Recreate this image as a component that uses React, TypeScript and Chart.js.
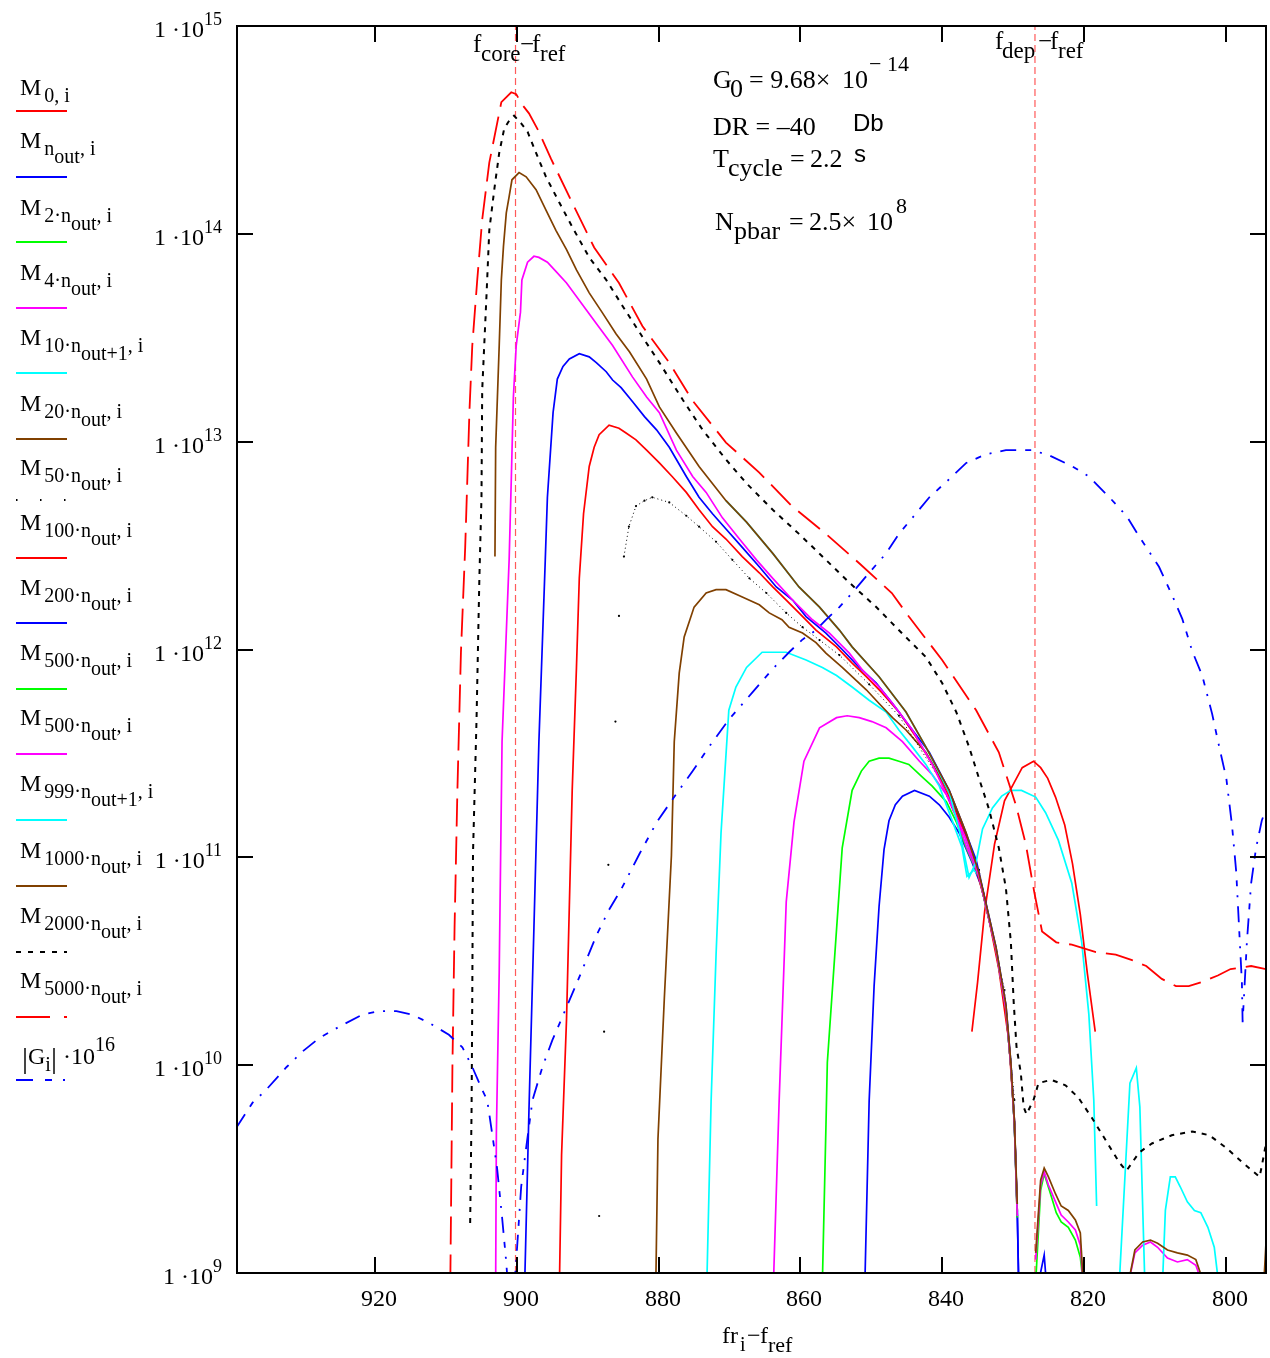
import { useEffect, useRef } from "react";
import { Chart, registerables } from "chart.js";

Chart.register(...registerables);

type Pt = [number, number | null];

// ---------- axes ----------
const xRange = [794.3, 939.5];
const yRange = [1e9, 1e15];
const xTicks = [920, 900, 880, 860, 840, 820, 800];
const yTicks = [1e9, 1e10, 1e11, 1e12, 1e13, 1e14, 1e15];
const yTickExp = ["9", "10", "11", "12", "13", "14", "15"];
const refLineX = [900.2, 826.9]; // f_core - f_ref , f_dep - f_ref

// ---------- series (x = fr_i - f_ref, y = value) ----------
const m0: Pt[] = [[835.8,1.45e10],[835.0,2.5e10],[834.0,5.5e10],[832.6,1.16e11],[831.2,1.87e11],[829.8,2.3e11],[828.7,2.7e11],[827.1,2.9e11],[826.1,2.7e11],[825.1,2.4e11],[824.0,1.95e11],[822.7,1.43e11],[821.6,9.3e10],[820.5,5.3e10],[819.5,2.75e10],[818.4,1.45e10]];

const mNout: Pt[] = [[850.9,9e8],[850.3,6.7e9],[849.6,2.4e10],[848.9,5.8e10],[848.2,1.09e11],[847.5,1.5e11],[846.6,1.79e11],[845.6,1.97e11],[843.9,2.1e11],[841.8,1.97e11],[840.4,1.79e11],[839.0,1.56e11],[837.6,1.31e11],[835.8,9.5e10],[834.3,7.0e10],[832.4,3.6e10],[831.0,1.85e10],[830.3,9.9e9],[829.8,5.2e9],[829.4,2.0e9],[829.2,9e8],[827.0,null],[826.4,9e8],[825.6,1.22e9],[825.3,9e8]];

const m2: Pt[] = [[856.9,9e8],[856.4,5e9],[856.2,1.03e10],[854.9,4.5e10],[854.1,1.11e11],[852.7,2.1e11],[851.4,2.6e11],[850.3,2.9e11],[848.9,3.0e11],[847.5,3.0e11],[846.1,2.9e11],[844.7,2.8e11],[842.6,2.4e11],[841.4,2.2e11],[839.4,1.85e11],[838.0,1.48e11],[836.5,1.09e11],[834.8,8.1e10],[832.4,3.6e10],[831.0,1.85e10],[830.3,9.9e9],[829.8,5.2e9],[829.4,1.85e9]];

const m4: Pt[] = [[863.8,9e8],[863.0,6.7e9],[862.0,6.1e10],[860.9,1.48e11],[859.5,2.9e11],[857.3,4.2e11],[854.9,4.7e11],[853.4,4.8e11],[851.7,4.7e11],[849.9,4.5e11],[847.9,4.2e11],[845.6,3.6e11],[843.2,2.9e11],[841.4,2.5e11],[839.4,2.0e11],[838.0,1.55e11],[836.5,1.11e11],[834.8,8.1e10],[832.4,3.6e10],[831.0,1.85e10],[830.3,9.9e9],[829.8,5.2e9],[829.4,1.88e9]];

const m10: Pt[] = [[873.2,9e8],[872.6,6.7e9],[871.9,3.4e10],[871.2,1.31e11],[870.1,5.1e11],[869.1,6.6e11],[867.6,8.2e11],[865.4,9.7e11],[862.0,9.7e11],[859.2,8.9e11],[856.9,8.2e11],[854.9,7.5e11],[852.7,6.6e11],[850.3,5.7e11],[847.9,5.0e11],[846.1,4.1e11],[844.2,3.4e11],[842.3,2.8e11],[840.4,2.2e11],[838.6,1.51e11],[837.2,1.12e11],[836.5,8.1e10],[835.5,8.7e10],[834.8,8.1e10],[832.4,3.6e10],[831.0,1.85e10],[830.3,9.9e9],[829.8,5.2e9],[829.4,1.97e9]];

const m20: Pt[] = [[880.4,9e8],[880.1,4.4e9],[879.2,2.1e10],[878.2,1.02e11],[877.8,3.6e11],[877.1,7.7e11],[876.4,1.15e12],[875.0,1.6e12],[873.3,1.87e12],[871.9,1.94e12],[870.5,1.94e12],[868.2,1.79e12],[865.8,1.64e12],[864.4,1.5e12],[862.6,1.39e12],[861.6,1.28e12],[859.7,1.2e12],[857.8,1.08e12],[856.4,9.6e11],[854.1,8.2e11],[852.7,7.4e11],[850.7,6.4e11],[848.9,5.5e11],[847.0,4.7e11],[845.1,4.1e11],[842.3,3.2e11],[839.0,2.04e11],[836.6,1.28e11],[834.8,8.1e10],[832.4,3.6e10],[831.0,1.85e10],[830.3,9.9e9],[829.8,5.2e9],[829.4,1.97e9]];

const m50: Pt[] = [[888.4,1.88e9],[888.4,null],[887.7,1.45e10],[887.7,null],[887.1,9.2e10],[887.1,null],[886.1,4.5e11],[886.1,null],[885.6,1.45e12],[885.6,null],[884.9,2.8e12],[884.2,3.9e12],[883.2,4.9e12],[882.0,5.2e12],[880.9,5.4e12],[878.5,5.1e12],[876.1,4.4e12],[874.3,3.9e12],[871.9,3.3e12],[869.6,2.7e12],[867.2,2.2e12],[864.8,1.87e12],[862.0,1.5e12],[859.7,1.28e12],[857.3,1.11e12],[854.5,9.4e11],[850.3,6.8e11],[846.1,4.8e11],[840.4,2.4e11],[834.8,8.7e10],[831.2,2.3e10],[829.8,6.8e9]];

const m100: Pt[] = [[894.0,9e8],[893.7,3.7e9],[893.0,1.67e10],[892.2,2.1e11],[891.6,8.2e11],[891.2,2.2e12],[890.6,4.5e12],[889.8,7.6e12],[889.1,9.4e12],[888.4,1.08e13],[887.0,1.2e13],[885.6,1.16e13],[884.6,1.1e13],[883.2,1.02e13],[881.7,9.1e12],[879.9,7.9e12],[878.1,6.8e12],[876.1,5.7e12],[874.3,4.7e12],[872.4,3.9e12],[870.5,3.4e12],[868.2,2.8e12],[865.8,2.34e12],[863.9,2.0e12],[862.0,1.73e12],[860.2,1.5e12],[857.8,1.24e12],[854.9,1.03e12],[852.7,8.6e11],[850.7,7.4e11],[848.5,6.2e11],[846.1,5.0e11],[843.7,3.8e11],[841.4,2.8e11],[839.0,1.95e11],[836.2,1.17e11],[833.8,5.9e10],[832.0,2.9e10],[830.6,1.32e10],[829.8,5.4e9],[829.4,2.0e9]];

const m200: Pt[] = [[898.9,9e8],[898.3,6.1e9],[897.6,4.6e10],[896.9,3.6e11],[896.0,2.7e12],[895.7,5.4e12],[894.9,1.38e13],[894.3,2.0e13],[893.5,2.3e13],[892.6,2.5e13],[891.2,2.65e13],[889.8,2.56e13],[888.8,2.4e13],[887.4,2.17e13],[886.5,1.98e13],[885.3,1.82e13],[883.7,1.56e13],[882.0,1.32e13],[880.3,1.14e13],[878.5,9.4e12],[876.1,6.8e12],[874.3,5.4e12],[872.4,4.5e12],[870.5,3.8e12],[868.2,3.1e12],[865.8,2.5e12],[863.4,2.0e12],[861.1,1.73e12],[859.2,1.44e12],[856.4,1.2e12],[854.1,1.0e12],[851.7,8.2e11],[849.3,6.9e11],[847.0,5.5e11],[844.2,4.1e11],[841.8,3.2e11],[839.0,2.1e11],[837.2,1.47e11],[835.2,9.7e10],[832.4,3.7e10],[831.0,1.95e10],[830.3,1.03e10],[829.8,5.4e9],[829.4,2.0e9],[829.2,9e8]];

const m500g: Pt[] = [[836.6,1.21e11],[834.8,8.1e10],[832.4,3.6e10],[831.0,1.85e10],[830.3,9.9e9],[829.8,5.2e9],[829.4,1.85e9],[827.0,null],[826.8,9e8],[826.1,2.5e9],[825.6,3.0e9],[824.7,2.4e9],[823.9,1.95e9],[823.2,1.76e9],[822.2,1.66e9],[821.2,1.44e9],[820.5,1.19e9],[820.1,9e8]];

const m500m: Pt[] = [[903.0,9e8],[902.9,4.7e9],[902.5,2.8e10],[902.1,3.6e11],[901.1,2.7e12],[900.8,6.5e12],[900.5,1.64e13],[900.1,2.9e13],[899.5,4.2e13],[899.3,6.0e13],[898.5,7.3e13],[897.6,7.8e13],[896.9,7.7e13],[895.7,7.3e13],[894.5,6.6e13],[893.0,5.8e13],[891.6,5.0e13],[890.2,4.3e13],[888.8,3.7e13],[886.5,2.9e13],[883.7,2.05e13],[881.7,1.64e13],[879.9,1.38e13],[877.5,9.1e12],[875.2,6.8e12],[873.3,5.7e12],[871.0,4.3e12],[868.6,3.4e12],[866.2,2.7e12],[863.9,2.2e12],[861.1,1.73e12],[858.3,1.39e12],[855.9,1.2e12],[853.1,9.6e11],[851.3,8.0e11],[848.9,6.6e11],[847.0,5.5e11],[844.2,4.1e11],[841.4,2.8e11],[839.0,1.89e11],[836.6,1.21e11],[834.8,8.1e10],[832.4,3.6e10],[831.0,1.85e10],[830.3,9.9e9],[829.8,5.2e9],[829.4,1.88e9],[827.0,null],[826.8,1.16e9],[826.1,2.65e9],[825.6,3.06e9],[825.0,2.65e9],[824.0,2.2e9],[823.2,1.9e9],[822.2,1.76e9],[821.2,1.61e9],[820.5,1.36e9],[820.0,8e8],[815.0,null],[814.0,8e8],[812.8,1.25e9],[811.7,1.36e9],[810.6,1.41e9],[809.6,1.33e9],[808.2,1.18e9],[806.8,1.13e9],[805.4,1.16e9],[804.2,1.09e9],[802.8,8e8]];

const m999: Pt[] = [[870.5,5.2e12],[867.6,4.1e12],[863.9,2.9e12],[860.2,2.0e12],[857.3,1.6e12],[854.5,1.24e12],[852.7,1.03e12],[848.9,7.4e11],[845.1,5.0e11],[842.3,3.4e11],[839.0,2.05e11],[837.6,1.36e11],[836.2,8.0e10],[835.2,9.5e10],[834.3,1.37e11],[832.9,1.73e11],[831.6,1.97e11],[830.3,2.1e11],[828.8,2.1e11],[826.8,1.95e11],[825.4,1.64e11],[823.6,1.21e11],[821.7,7.5e10],[820.3,3.9e10],[819.3,1.76e10],[818.6,6.8e9],[818.2,2.1e9],[817.0,null],[815.0,9e8],[813.5,8.2e9],[812.6,9.7e9],[812.1,6.3e9],[811.4,9e8],[810.0,null],[808.9,9e8],[808.5,2.0e9],[807.8,2.9e9],[807.1,2.9e9],[806.4,2.6e9],[805.4,2.2e9],[804.4,2.0e9],[803.5,1.95e9],[802.5,1.66e9],[801.6,1.33e9],[801.0,9e8]];

const m1000: Pt[] = [[903.1,2.8e12],[903.0,9.4e12],[902.5,2.9e13],[902.2,6.0e13],[901.9,8.7e13],[901.5,1.26e14],[901.1,1.51e14],[900.7,1.82e14],[899.7,1.97e14],[898.7,1.88e14],[897.3,1.63e14],[895.9,1.3e14],[894.5,1.04e14],[893.0,8.4e13],[891.6,6.7e13],[889.8,5.2e13],[888.0,4.2e13],[886.0,3.3e13],[884.1,2.7e13],[881.7,2.0e13],[879.9,1.47e13],[877.5,1.1e13],[874.3,7.6e12],[870.5,5.2e12],[867.6,4.1e12],[863.9,2.9e12],[860.2,2.0e12],[857.3,1.6e12],[854.5,1.24e12],[852.7,1.03e12],[848.9,7.4e11],[845.1,5.0e11],[842.3,3.4e11],[839.0,2.1e11],[836.6,1.31e11],[834.8,8.4e10],[832.4,3.7e10],[831.0,1.95e10],[830.3,1.03e10],[829.8,5.4e9],[829.4,2.15e9],[827.0,null],[826.8,1.25e9],[826.1,2.8e9],[825.6,3.2e9],[825.0,2.9e9],[824.0,2.4e9],[823.2,2.1e9],[822.2,2.0e9],[821.2,1.8e9],[820.5,1.56e9],[820.0,8e8],[815.0,null],[814.0,8e8],[812.8,1.29e9],[811.7,1.41e9],[810.6,1.44e9],[809.6,1.39e9],[808.2,1.29e9],[806.8,1.25e9],[805.4,1.22e9],[804.2,1.16e9],[802.6,8e8],[796.0,null],[794.6,9e8],[794.3,1.4e9]];

const m2000: Pt[] = [[906.6,1.74e9],[906.4,6.1e9],[906.3,2.15e10],[906.2,1.04e11],[905.7,4.6e11],[905.3,2.2e12],[905.0,5.4e12],[904.9,1.77e13],[904.3,5.0e13],[903.9,1.04e14],[903.2,1.63e14],[902.5,2.45e14],[901.8,3.2e14],[901.1,3.5e14],[900.4,3.7e14],[899.4,3.4e14],[898.5,3.1e14],[897.3,2.45e14],[895.9,1.88e14],[894.0,1.41e14],[892.2,1.08e14],[889.8,7.7e13],[887.4,6.0e13],[885.1,4.5e13],[882.3,3.2e13],[879.9,2.4e13],[876.6,1.59e13],[873.8,1.14e13],[870.5,8.2e12],[867.6,6.3e12],[863.9,4.7e12],[860.2,3.6e12],[856.4,2.7e12],[853.1,2.1e12],[849.3,1.6e12],[845.7,1.2e12],[842.3,9.2e11],[840.0,6.9e11],[838.0,5.0e11],[836.2,3.4e11],[834.8,2.4e11],[833.4,1.71e11],[832.0,1.11e11],[831.0,7.1e10],[830.3,3.9e10],[829.9,2.0e10],[829.5,1.22e10],[828.9,9.2e9],[828.5,6.3e9],[828.1,5.8e9],[827.1,6.8e9],[826.4,8.2e9],[824.6,8.5e9],[822.6,8.0e9],[820.8,7.0e9],[818.9,5.6e9],[817.0,4.4e9],[815.0,3.4e9],[814.0,3.1e9],[812.2,3.8e9],[810.4,4.2e9],[807.6,4.6e9],[804.7,4.8e9],[802.3,4.6e9],[799.9,4.0e9],[797.6,3.4e9],[795.2,2.9e9],[794.8,3.4e9],[794.3,4.2e9]];

const m5000: Pt[] = [[909.4,9e8],[909.1,1.0e10],[908.8,4.6e10],[908.4,2.1e11],[907.9,9.7e11],[907.3,3.1e12],[906.7,1.4e13],[906.3,2.9e13],[905.6,6.0e13],[904.9,1.17e14],[903.9,2.2e14],[903.2,2.9e14],[902.2,4.3e14],[900.8,4.8e14],[900.1,4.7e14],[899.3,4.2e14],[898.3,3.8e14],[896.9,3.1e14],[895.2,2.3e14],[892.2,1.41e14],[889.1,8.6e13],[885.6,5.8e13],[882.3,3.6e13],[878.5,2.4e13],[875.3,1.59e13],[870.5,9.9e12],[865.8,7.1e12],[861.2,4.9e12],[856.4,3.6e12],[851.7,2.6e12],[847.1,1.87e12],[844.7,1.44e12],[840.0,8.9e11],[835.2,5.1e11],[832.0,3.2e11],[829.6,1.79e11],[828.2,1.16e11],[827.0,6.8e10],[825.9,4.4e10],[823.9,3.9e10],[821.7,3.8e10],[818.3,3.5e10],[815.5,3.4e10],[813.2,3.2e10],[811.2,3.0e10],[809.0,2.6e10],[807.0,2.4e10],[805.2,2.4e10],[803.5,2.5e10],[801.1,2.7e10],[799.3,2.9e10],[796.4,3.0e10],[794.3,2.9e10]];

const gAbs: Pt[] = [[939.6,5.0e9],[937.3,6.6e9],[935.4,7.6e9],[932.5,9.8e9],[930.3,1.16e10],[927.9,1.35e10],[925.1,1.53e10],[921.8,1.75e10],[919.4,1.82e10],[917.0,1.82e10],[914.8,1.75e10],[912.4,1.6e10],[909.6,1.4e10],[907.7,1.22e10],[906.3,9.8e9],[904.9,7.6e9],[904.2,6.8e9],[903.5,4.7e9],[902.8,3.2e9],[902.1,1.86e9],[901.5,1.12e9],[900.8,5e8],[900.1,1.15e9],[899.4,2.6e9],[898.7,4.0e9],[897.8,6.8e9],[896.4,9.8e9],[895.0,1.32e10],[893.3,1.8e10],[891.2,2.65e10],[888.8,4.2e10],[887.0,5.6e10],[885.3,7.0e10],[882.7,1.04e11],[880.3,1.47e11],[878.1,1.89e11],[875.2,2.6e11],[872.9,3.4e11],[870.1,4.6e11],[866.8,6.2e11],[864.0,8.0e11],[861.6,9.7e11],[859.8,1.11e12],[857.8,1.24e12],[856.4,1.39e12],[854.5,1.6e12],[852.7,1.87e12],[850.3,2.34e12],[847.9,2.9e12],[846.1,3.6e12],[844.2,4.3e12],[841.8,5.4e12],[839.0,6.6e12],[836.6,7.9e12],[833.8,8.7e12],[831.0,9.1e12],[827.3,9.1e12],[824.9,8.6e12],[821.6,7.6e12],[819.3,6.8e12],[816.4,5.4e12],[814.0,4.4e12],[812.2,3.5e12],[809.4,2.5e12],[807.5,1.81e12],[806.1,1.4e12],[804.7,9.8e11],[803.3,7.5e11],[801.9,4.9e11],[800.9,3.4e11],[799.9,2.4e11],[799.1,1.43e11],[798.5,8.5e10],[798.1,4.6e10],[797.7,2.5e10],[797.6,1.61e10],[797.0,3.9e10],[796.4,7.5e10],[795.7,1.11e11],[794.9,1.5e11],[794.3,1.71e11]];

// ---------- legend labels: [text, level] (0 base, 1 sub, 2 sub-sub, -1 sup, 3 bar) ----------
const legendText: [string, number][][] = [
  [["M", 0], ["0, i", 1]],
  [["M", 0], ["n", 1], ["out", 2], [", i", 1]],
  [["M", 0], ["2·n", 1], ["out", 2], [", i", 1]],
  [["M", 0], ["4·n", 1], ["out", 2], [", i", 1]],
  [["M", 0], ["10·n", 1], ["out+1", 2], [", i", 1]],
  [["M", 0], ["20·n", 1], ["out", 2], [", i", 1]],
  [["M", 0], ["50·n", 1], ["out", 2], [", i", 1]],
  [["M", 0], ["100·n", 1], ["out", 2], [", i", 1]],
  [["M", 0], ["200·n", 1], ["out", 2], [", i", 1]],
  [["M", 0], ["500·n", 1], ["out", 2], [", i", 1]],
  [["M", 0], ["500·n", 1], ["out", 2], [", i", 1]],
  [["M", 0], ["999·n", 1], ["out+1", 2], [", i", 1]],
  [["M", 0], ["1000·n", 1], ["out", 2], [", i", 1]],
  [["M", 0], ["2000·n", 1], ["out", 2], [", i", 1]],
  [["M", 0], ["5000·n", 1], ["out", 2], [", i", 1]],
  [["|", 3], ["G", 0], ["i", 1], ["|", 3], [" ·10", 0], ["16", -1]],
];

const SERIF = '"Liberation Serif", "Times New Roman", serif';
const SANS = '"Liberation Sans", Arial, sans-serif';

type Style = { data: Pt[]; color: string; dash: number[]; legendDash: number[]; width: number; dots?: boolean };

const styles: Style[] = [
  { data: m0, color: "#ff0000", dash: [], legendDash: [], width: 1.7 },
  { data: mNout, color: "#0000ff", dash: [], legendDash: [], width: 1.7 },
  { data: m2, color: "#00ff00", dash: [], legendDash: [], width: 1.7 },
  { data: m4, color: "#ff00ff", dash: [], legendDash: [], width: 1.7 },
  { data: m10, color: "#00ffff", dash: [], legendDash: [], width: 1.7 },
  { data: m20, color: "#804000", dash: [], legendDash: [], width: 1.7 },
  { data: m50, color: "#000000", dash: [1, 3], legendDash: [1.5, 22.5], width: 1, dots: true },
  { data: m100, color: "#ff0000", dash: [], legendDash: [], width: 1.7 },
  { data: m200, color: "#0000ff", dash: [], legendDash: [], width: 1.7 },
  { data: m500g, color: "#00ff00", dash: [], legendDash: [], width: 1.7 },
  { data: m500m, color: "#ff00ff", dash: [], legendDash: [], width: 1.7 },
  { data: m999, color: "#00ffff", dash: [], legendDash: [], width: 1.7 },
  { data: m1000, color: "#804000", dash: [], legendDash: [], width: 1.7 },
  { data: m2000, color: "#000000", dash: [5, 6], legendDash: [5, 7], width: 2 },
  { data: m5000, color: "#ff0000", dash: [28, 10], legendDash: [34, 14, 3, 14], width: 1.8 },
  { data: gAbs, color: "#0000ff", dash: [16, 9, 6, 9, 2, 9], legendDash: [17, 12, 7, 11, 2, 20], width: 1.8 },
];

const legendBase = [95, 148, 215, 280, 345, 411, 475, 530, 595, 660, 725, 791, 858, 923, 988, 1064];
const legendLineY = [111, 177, 242, 308, 373, 439, 500, 558, 623, 689, 754, 820, 886, 952, 1017, 1080];

type Part = { t: string; x?: number; y: number; s?: number; f?: string };

function drawParts(ctx: CanvasRenderingContext2D, parts: Part[], startX = 0) {
  let cx = startX;
  for (const p of parts) {
    ctx.font = `${p.s ?? 26}px ${p.f ?? SERIF}`;
    const x = p.x ?? cx;
    ctx.fillText(p.t, x, p.y);
    cx = x + ctx.measureText(p.t).width;
  }
  return cx;
}

const annotations: Part[][] = [
  [
    { t: "G", x: 713, y: 88 }, { t: "0", x: 730, y: 97 }, { t: "= 9.68×", x: 749, y: 88 },
    { t: "10", x: 842, y: 88 }, { t: "− 14", x: 869, y: 71, s: 22 },
  ],
  [{ t: "DR = –40", x: 713, y: 135 }],
  [{ t: "Db", x: 853, y: 131, f: SANS, s: 24 }],
  [{ t: "T", x: 713, y: 167 }, { t: "cycle", x: 728, y: 176 }, { t: "=", x: 790, y: 167 }, { t: "2.2", x: 810, y: 167 }],
  [{ t: "s", x: 854, y: 162, f: SANS, s: 24 }],
  [
    { t: "N", x: 715, y: 230 }, { t: "pbar", x: 734, y: 239 }, { t: "=", x: 789, y: 230 },
    { t: "2.5×", x: 809, y: 230 }, { t: "10", x: 867, y: 230 }, { t: "8", x: 896, y: 213, s: 22 },
  ],
  [
    { t: "f", x: 473, y: 52, s: 25 }, { t: "core", x: 481, y: 61, s: 23 }, { t: "−", x: 520, y: 52, s: 25 },
    { t: "f", x: 532, y: 52, s: 25 }, { t: "ref", x: 540, y: 61, s: 23 },
  ],
  [
    { t: "f", x: 995, y: 49, s: 25 }, { t: "dep", x: 1002, y: 58, s: 23 }, { t: "−", x: 1038, y: 49, s: 25 },
    { t: "f", x: 1050, y: 49, s: 25 }, { t: "ref", x: 1058, y: 58, s: 23 },
  ],
  [
    { t: "fr", x: 722, y: 1343, s: 24 }, { t: "i", x: 740, y: 1351, s: 20 }, { t: "−", x: 747, y: 1343, s: 24 },
    { t: "f", x: 760, y: 1343, s: 24 }, { t: "ref", x: 768, y: 1352, s: 22 },
  ],
];

const decor = {
  id: "decor",
  afterDraw(chart: any) {
    const ctx: CanvasRenderingContext2D = chart.ctx;
    const { left, right, top, bottom } = chart.chartArea;
    const xs = chart.scales.x;
    const ys = chart.scales.y;
    ctx.save();
    ctx.strokeStyle = "#000";
    ctx.fillStyle = "#000";
    ctx.setLineDash([]);
    ctx.lineWidth = 2;
    ctx.strokeRect(left, top, right - left, bottom - top);
    const seg = (x1: number, y1: number, x2: number, y2: number) => {
      ctx.beginPath(); ctx.moveTo(x1, y1); ctx.lineTo(x2, y2); ctx.stroke();
    };
    ctx.textBaseline = "alphabetic";
    // x ticks
    for (const v of xTicks) {
      const px = Math.round(xs.getPixelForValue(v));
      seg(px, bottom, px, bottom - 16);
      seg(px, top, px, top + 16);
      ctx.font = `24px ${SERIF}`;
      const w = ctx.measureText(String(v)).width;
      ctx.fillText(String(v), px - w / 2 + 4, bottom + 33);
    }
    // y ticks
    yTicks.forEach((v, i) => {
      const py = Math.round(ys.getPixelForValue(v));
      seg(left, py, left + 16, py);
      seg(right, py, right - 16, py);
      ctx.font = `24px ${SERIF}`;
      const wb = ctx.measureText("1 ·10").width;
      ctx.font = `18px ${SERIF}`;
      const ws = ctx.measureText(yTickExp[i]).width;
      const x0 = 222 - wb - ws;
      drawParts(ctx, [
        { t: "1 ·10", x: x0, y: py + 11, s: 24 },
        { t: yTickExp[i], y: py - 1, s: 18 },
      ]);
    });
    // annotations
    for (const a of annotations) drawParts(ctx, a);
    // legend
    legendText.forEach((segs, i) => {
      const B = legendBase[i];
      let cx = i === 15 ? 22 : 20;
      segs.forEach(([t, lvl], k) => {
        const size = lvl === 0 ? 24 : lvl === 3 ? 30 : 20;
        const dy = lvl === 1 ? 7 : lvl === 2 ? 15 : lvl === -1 ? -13 : lvl === 3 ? 4 : 0;
        cx = drawParts(ctx, [{ t, x: cx, y: B + dy, s: size }]);
        if (k === 0 && t === "M") cx += 3;
      });
      const st = styles[i];
      ctx.strokeStyle = st.color;
      ctx.lineWidth = 2;
      ctx.setLineDash(st.legendDash);
      seg(16, legendLineY[i], 67, legendLineY[i]);
      ctx.setLineDash([]);
    });
    ctx.restore();
  },
};

export default function App() {
  const ref = useRef<HTMLCanvasElement | null>(null);
  useEffect(() => {
    if (!ref.current) return;
    const toXY = (arr: Pt[]) => arr.map(([x, y]) => ({ x, y }));
    const series = styles.map((s) => ({
      data: toXY(s.data),
      showLine: true,
      borderColor: s.color,
      backgroundColor: s.color,
      borderWidth: s.width,
      borderDash: s.dash,
      pointRadius: s.dots ? 1.1 : 0,
      pointBorderWidth: 0,
      pointBackgroundColor: s.color,
      tension: 0,
      spanGaps: false,
      fill: false,
    }));
    const refs = refLineX.map((x) => ({
      data: [{ x, y: yRange[0] }, { x, y: yRange[1] }],
      showLine: true,
      borderColor: "#ff5a5a",
      borderWidth: 1.2,
      borderDash: [7, 4],
      pointRadius: 0,
      fill: false,
    }));
    // dataset 0 is painted last (on top): later traces on top, reference lines underneath
    const datasets = [...series.slice().reverse(), ...refs];
    const chart = new Chart(ref.current, {
      type: "scatter",
      data: { datasets: datasets as any },
      options: {
        responsive: false,
        animation: false,
        devicePixelRatio: 1,
        layout: { padding: { left: 237, right: 3, top: 26, bottom: 85 } },
        plugins: { legend: { display: false }, tooltip: { enabled: false } },
        events: [],
        scales: {
          x: { type: "linear", min: xRange[0], max: xRange[1], reverse: true, display: false },
          y: { type: "logarithmic", min: yRange[0], max: yRange[1], display: false },
        },
      },
      plugins: [decor],
    });
    return () => chart.destroy();
  }, []);
  return (
    <div style={{ position: "absolute", left: 0, top: 0, width: 1270, height: 1358, background: "#fff" }}>
      <canvas ref={ref} width={1270} height={1358} style={{ display: "block" }} />
    </div>
  );
}
